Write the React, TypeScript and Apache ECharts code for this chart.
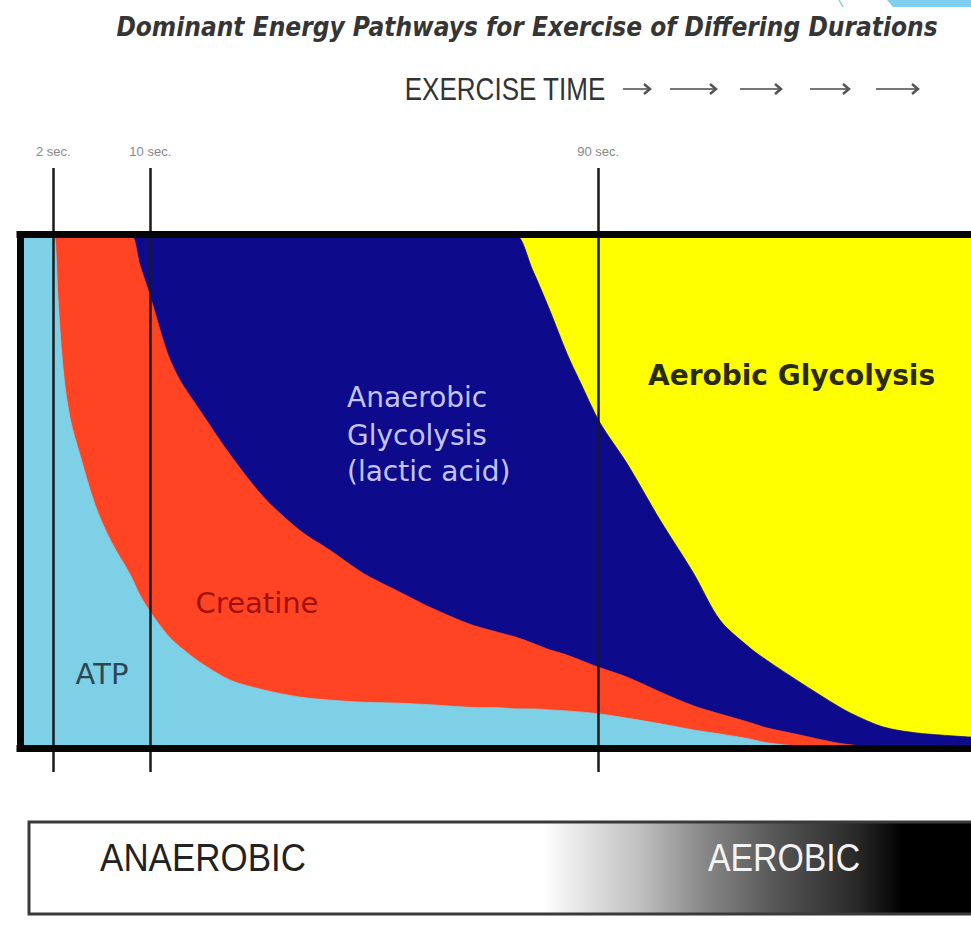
import React, { useEffect, useRef } from 'react';
import * as echarts from 'echarts';

// Exercise-time scale (0 = start, 100 = right edge of the plot, not linear in seconds)
const times = [0, 3.4, 3.7, 4.0, 4.6, 5.3, 6.3, 7.9, 9.5, 11.6, 12.6, 13.7, 15.5, 16.8, 18.9, 22.1, 25.6, 29.4, 32.6, 36.1, 40.0, 43.1, 47.3, 50.5, 52.1, 53.9, 55.7, 57.5, 58.9, 61.0, 63.8, 67.3, 70.8, 73.6, 76.8, 78.5, 82.0, 85.5, 87.3, 90.7, 94.3, 100];

// Share of energy supply (%) for each pathway, stacked bottom to top
const atp = [100, 100, 99, 87.3, 72.6, 63.9, 57.1, 47.3, 40.5, 33.7, 29.8, 26.5, 22.0, 19.7, 16.7, 13.2, 11.3, 9.9, 9.3, 8.9, 8.7, 8.4, 7.9, 7.8, 7.6, 7.6, 7.4, 7.2, 7.0, 6.6, 5.8, 4.7, 3.5, 2.7, 1.7, 1.0, 0.3, 0, 0, 0, 0, 0];
const creatine = [0, 0, 1, 12.7, 27.4, 36.1, 42.9, 52.7, 59.5, 66.3, 64.3, 61.4, 54.9, 52.0, 49.1, 43.9, 37.6, 32.5, 29.2, 25.1, 21.6, 19.0, 16.2, 14.6, 14.0, 12.8, 11.7, 10.9, 10.1, 9.0, 8.0, 6.2, 4.7, 3.9, 3.2, 2.9, 2.2, 1.1, 0.6, 0, 0, 0];
const anaerobic = [0, 0, 0, 0, 0, 0, 0, 0, 0, 0, 5.9, 12.1, 23.1, 28.3, 34.2, 42.9, 51.1, 57.6, 61.5, 66.0, 69.7, 72.6, 75.9, 77.6, 78.4, 72.7, 66.2, 58.8, 54.2, 47.7, 41.7, 33.5, 25.9, 18.3, 14.5, 13.2, 10.3, 7.6, 6.2, 4.1, 2.9, 2.1];
const aerobic = [0, 0, 0, 0, 0, 0, 0, 0, 0, 0, 0, 0, 0, 0, 0, 0, 0, 0, 0, 0, 0, 0, 0, 0, 0, 6.9, 14.7, 23.1, 28.7, 36.7, 44.5, 55.6, 65.9, 75.1, 80.6, 82.9, 87.2, 91.3, 93.2, 95.9, 97.1, 97.9];

// Duration markers
const markerTimes = [3.5, 13.7, 60.8];
const markerLabels = ['2 sec.', '10 sec.', '90 sec.'];

const seriesNames = ['ATP', 'Creatine', 'Anaerobic Glycolysis', 'Aerobic Glycolysis'];
const seriesColors = ['#7dd0e6', '#ff4423', '#0e0a8c', '#ffff00'];

export default function App() {
  const ref = useRef<HTMLDivElement>(null);

  useEffect(() => {
    const chart = echarts.init(ref.current!, null, { renderer: 'svg' });
    const values = [atp, creatine, anaerobic, aerobic];

    // cumulative tops of each band (a value/value cartesian would stack the x dimension)
    const cumulative: number[][] = [];
    values.forEach((vals, k) => {
      cumulative.push(vals.map((v, i) => +(v + (k > 0 ? cumulative[k - 1][i] : 0)).toFixed(2)));
    });

    // draw the top band first so the lower bands are painted over it
    const series: any[] = [3, 2, 1, 0].map((k, order) => ({
      name: seriesNames[k],
      type: 'line',
      symbol: 'none',
      silent: true,
      smooth: 0.3,
      data: times.map((t, i) => [t, cumulative[k][i]]),
      lineStyle: { width: 0.8, color: seriesColors[k] },
      areaStyle: { color: seriesColors[k], opacity: 1, origin: 'auto' },
      z: 1 + order,
    }));

    const boxLine = { color: '#050505', width: 7, cap: 'square', type: 'solid' };
    series.push({
      name: 'frame',
      type: 'line',
      data: [],
      silent: true,
      z: 10,
      markLine: {
        silent: true,
        z: 10,
        symbol: ['none', 'none'],
        animation: false,
        data: [
          ...markerTimes.map((x, i) => ({
            xAxis: x,
            name: markerLabels[i],
            lineStyle: { color: '#1a1a1a', width: 2.5, type: 'solid' },
            label: {
              show: true,
              position: 'end',
              formatter: '{b}',
              color: '#888',
              fontSize: 13,
              fontFamily: 'Liberation Sans',
              distance: 10,
            },
          })),
          [{ coord: [0, 100], lineStyle: boxLine, label: { show: false } }, { coord: [100, 100] }],
          [{ coord: [0, 0], lineStyle: boxLine, label: { show: false } }, { coord: [100, 0] }],
          [{ coord: [0, 0], lineStyle: boxLine, label: { show: false } }, { coord: [0, 100] }],
        ],
      },
    });

    const txt = (text: string, x: number, y: number, font: string, fill: string, align = 'center', scaleX = 1) => ({
      type: 'text',
      x,
      y,
      scaleX,
      silent: true,
      z: 20,
      style: { text, font, fill, align, verticalAlign: 'middle' },
    });

    const arrows = [[623, 650], [670, 716], [740, 781], [810, 849], [876, 918]];
    const arrowEls: any[] = [];
    arrows.forEach(([a, b]) => {
      arrowEls.push({ type: 'line', silent: true, shape: { x1: a, y1: 89, x2: b, y2: 89 }, style: { stroke: '#777', lineWidth: 2 } });
      arrowEls.push({ type: 'polyline', silent: true, shape: { points: [[b - 6, 84], [b, 89], [b - 6, 94]] }, style: { stroke: '#555', lineWidth: 2.5, fill: 'none' } });
    });

    chart.setOption({
      animation: false,
      backgroundColor: '#ffffff',
      grid: { left: 20, right: 0, top: 168, bottom: 172, containLabel: false },
      xAxis: { type: 'value', min: 0, max: 100, show: false },
      yAxis: { type: 'value', min: -4.7, max: 113, show: false },
      series,
      graphic: [
        // top-right fragment
        { type: 'polygon', silent: true, shape: { points: [[887, 0], [971, 0], [971, 7], [893, 7]] }, style: { fill: '#7fd0ee' } },
        { type: 'line', silent: true, shape: { x1: 839, y1: 0, x2: 843, y2: 7 }, style: { stroke: '#7fd0ee', lineWidth: 1.5 } },
        txt('Dominant Energy Pathways for Exercise of Differing Durations', 527, 27, 'italic bold 26px "DejaVu Sans"', '#353535', 'center', 0.9),
        txt('EXERCISE TIME', 505, 89, '31px "Liberation Sans"', '#333', 'center', 0.84),
        ...arrowEls,
        txt('ATP', 102, 674, '29px "DejaVu Sans"', '#2d4654'),
        txt('Creatine', 257, 603, '29px "DejaVu Sans"', '#a3100c'),
        txt('Anaerobic', 347, 397, '28px "DejaVu Sans"', '#c4c4f4', 'left'),
        txt('Glycolysis', 347, 435, '28px "DejaVu Sans"', '#c4c4f4', 'left'),
        txt('(lactic acid)', 347, 471, '28px "DejaVu Sans"', '#c4c4f4', 'left'),
        txt('Aerobic Glycolysis', 648, 375, 'bold 28px "DejaVu Sans"', '#2b2b10', 'left'),
        {
          type: 'rect',
          silent: true,
          shape: { x: 29, y: 822, width: 960, height: 92 },
          style: {
            fill: new echarts.graphic.LinearGradient(0, 0, 1, 0, [
              { offset: 0, color: '#ffffff' },
              { offset: 0.535, color: '#ffffff' },
              { offset: 0.58, color: '#e2e2e2' },
              { offset: 0.64, color: '#bdbdbd' },
              { offset: 0.7, color: '#8a8a8a' },
              { offset: 0.78, color: '#555555' },
              { offset: 0.86, color: '#2a2a2a' },
              { offset: 0.91, color: '#000000' },
              { offset: 1, color: '#000000' },
            ]),
            stroke: '#3a3a3a',
            lineWidth: 3,
          },
        },
        txt('ANAEROBIC', 203, 858, '38px "Liberation Sans"', '#222', 'center', 0.92),
        txt('AEROBIC', 784, 858, '38px "Liberation Sans"', '#f4f4f4', 'center', 0.89),
      ],
    });

    return () => chart.dispose();
  }, []);

  return <div ref={ref} style={{ position: 'absolute', left: 0, top: 0, width: 971, height: 944, background: '#fff' }} />;
}
